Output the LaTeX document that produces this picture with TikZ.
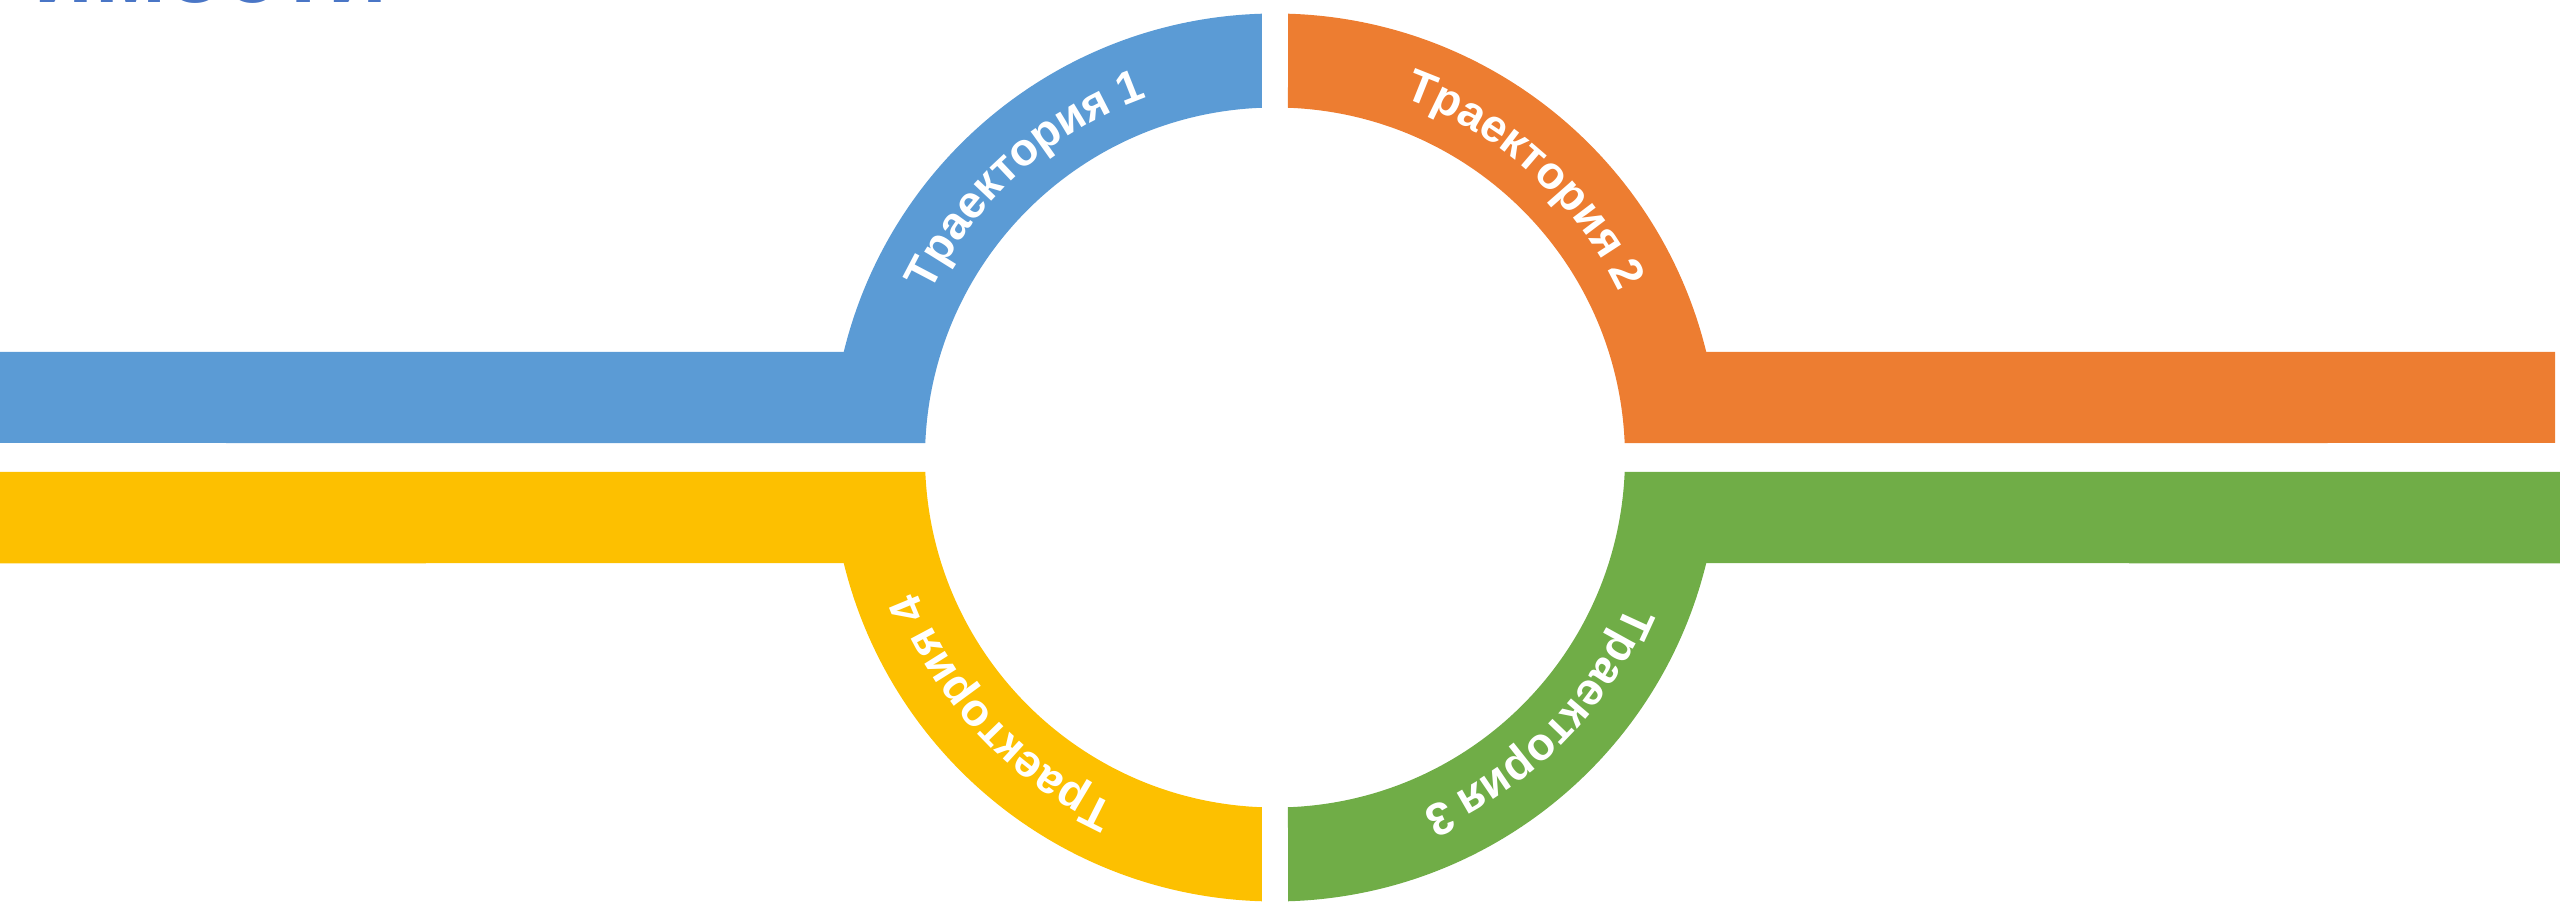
\documentclass[tikz,border=0pt]{standalone}
\usepackage{fontspec}
\setmainfont{Liberation Sans}
\newfontfamily\trfont[LetterSpace=-5]{Liberation Sans}
\usetikzlibrary{decorations.text}
\definecolor{trblue}{HTML}{5B9BD5}
\definecolor{trorange}{HTML}{ED7D31}
\definecolor{trgreen}{HTML}{70AD47}
\definecolor{tryellow}{HTML}{FDC000}
\definecolor{titleblue}{HTML}{4A76C6}
\tikzset{
  trlabel/.style={decorate, decoration={text along path, text align=center, text color=white, text={#1}}}
}

\begin{document}
\trfont\bfseries\fontsize{13}{15}\selectfont
\begin{tikzpicture}
            \useasboundingbox (-12.75,-4.495) rectangle (12.85,4.575);
            \node[anchor=base west, inner sep=0pt, text=titleblue, font=\normalfont\bfseries\fontsize{28}{30}\selectfont] (title) at (-12.42,4.545) {имости};
            % four tracks
            \fill[trblue] (-12.75,0.145) -- (177.63:3.5) arc[start angle=177.63, end angle=92.13, radius=3.5] -- (91.68:4.44) arc[start angle=91.68, end angle=166.25, radius=4.44] -- (-12.75,1.055) -- cycle;
            \fill[trorange] (12.80,0.145) -- (2.37:3.5) arc[start angle=2.37, end angle=87.87, radius=3.5] -- (88.32:4.44) arc[start angle=88.32, end angle=13.75, radius=4.44] -- (12.80,1.055) -- cycle;
            \fill[trgreen] (12.85,-0.145) -- (-2.37:3.5) arc[start angle=-2.37, end angle=-87.87, radius=3.5] -- (-88.32:4.44) arc[start angle=-88.32, end angle=-13.75, radius=4.44] -- (12.85,-1.06) -- cycle;
            \fill[tryellow] (-12.75,-0.145) -- (182.37:3.5) arc[start angle=182.37, end angle=267.87, radius=3.5] -- (268.32:4.44) arc[start angle=268.32, end angle=193.75, radius=4.44] -- (-12.75,-1.06) -- cycle;
            % labels along the arcs
            \path[trlabel={Траектория 1}] (172:3.82) arc[start angle=172, end angle=92, radius=3.82];
            \path[trlabel={Траектория 2}] (88:3.82) arc[start angle=88, end angle=8, radius=3.82];
            \path[trlabel={Траектория 3}] (-5:3.82) arc[start angle=-5, end angle=-85, radius=3.82];
            \path[trlabel={Траектория 4}] (263:3.82) arc[start angle=263, end angle=183, radius=3.82];
        \end{tikzpicture}
\end{document}
